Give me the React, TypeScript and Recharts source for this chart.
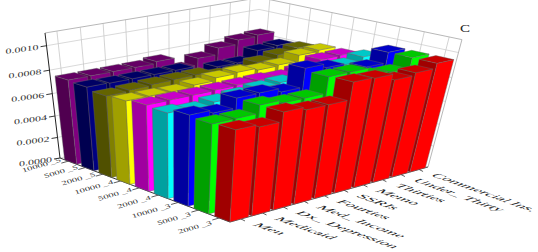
import { ScatterChart, Scatter, XAxis, YAxis, Customized } from "recharts";

const W = 538;
const H = 252;

const categories = ["Men", "Medicaid", "Dx_ Depression", "Med_ Income", "Fourties", "SSRIs", "Memo", "Thirties", "Under_ Thirty", "Commercial Ins."];
const rowLabels = ["2000 _3", "5000 _3", "10000 _3", "2000 _4", "5000 _4", "10000 _4", "2000 _5", "5000 _5", "10000 _5"];
const valueTicks = [0, 0.0002, 0.0004, 0.0006, 0.0008, 0.001];
const maxValue = 0.0011;

const row2000_3 = [0.00078, 0.00076, 0.000834, 0.00081, 0.00081, 0.000947, 0.00094, 0.00089, 0.00091, 0.00095];
const row5000_3 = [0.00077, 0.00077, 0.000835, 0.00081, 0.00081, 0.00094, 0.00094, 0.00088, 0.00087, 0.00095];
const row10000_3 = [0.000785, 0.00076, 0.000838, 0.00084, 0.00081, 0.00096, 0.00093, 0.00085, 0.000865, 0.00095];
const row2000_4 = [0.000747, 0.00073, 0.000755, 0.00077, 0.00079, 0.0008, 0.00078, 0.00078, 0.000836, 0.00087];
const row5000_4 = [0.000758, 0.00076, 0.00076, 0.000764, 0.000767, 0.00077, 0.00076, 0.00078, 0.000837, 0.00084];
const row10000_4 = [0.00074, 0.00074, 0.000737, 0.000756, 0.00078, 0.00079, 0.000774, 0.000782, 0.00083, 0.00084];
const row2000_5 = [0.00073, 0.00074, 0.00075, 0.000755, 0.000757, 0.00072, 0.00072, 0.00076, 0.00079, 0.000816];
const row5000_5 = [0.000754, 0.00075, 0.00075, 0.00075, 0.00075, 0.00066, 0.00071, 0.00071, 0.000785, 0.000796];
const row10000_5 = [0.000764, 0.000764, 0.000764, 0.000764, 0.00078, 0.00068, 0.00074, 0.000797, 0.000834, 0.000846];

const rows = [row2000_3, row5000_3, row10000_3, row2000_4, row5000_4, row10000_4, row2000_5, row5000_5, row10000_5];
const faceColors = [
  ["#a00000", "#ff0000", "#c80000"],
  ["#00a000", "#00ff00", "#00c800"],
  ["#0000a0", "#0000ff", "#0000c8"],
  ["#00a0a0", "#00ffff", "#00c8c8"],
  ["#a000a0", "#ff00ff", "#c800c8"],
  ["#a0a000", "#ffff00", "#c8c800"],
  ["#505000", "#808000", "#646400"],
  ["#000050", "#000080", "#000064"],
  ["#500050", "#800080", "#640064"],
];

// floor corners and the point the verticals converge on
const floorA = [230, 222];
const floorB = [428, 167];
const floorD = [251, 115];
const floorC = [60, 158];
const vanish = [175, 1117];
const topOfC = 33;

function floorMatrix() {
  const [x0, y0] = floorA, [x1, y1] = floorB, [x2, y2] = floorD, [x3, y3] = floorC;
  const dx1 = x1 - x2, dx2 = x3 - x2, sx = x0 - x1 + x2 - x3;
  const dy1 = y1 - y2, dy2 = y3 - y2, sy = y0 - y1 + y2 - y3;
  const den = dx1 * dy2 - dx2 * dy1;
  const g = (sx * dy2 - dx2 * sy) / den;
  const h = (dx1 * sy - sx * dy1) / den;
  return [x1 - x0 + g * x1, x3 - x0 + h * x3, x0, y1 - y0 + g * y1, y3 - y0 + h * y3, y0, g, h];
}
const m = floorMatrix();
// scale of the height column, so that the back-left corner reaches the top of the value axis
const wc = m[7] + 1;
const heightK = ((floorC[1] - topOfC) * wc) / (topOfC - vanish[1]);

// u along categories, v into depth, w up
function project(u: number, v: number, w: number) {
  const d = m[6] * u + m[7] * v + 1 + heightK * w;
  const x = (m[0] * u + m[1] * v + m[2] + heightK * w * vanish[0]) / d;
  const y = (m[3] * u + m[4] * v + m[5] + heightK * w * vanish[1]) / d;
  return [x, y];
}
const poly = (pts: number[][]) => pts.map((p) => p[0].toFixed(1) + "," + p[1].toFixed(1)).join(" ");

const barWidth = 0.085;
const barDepth = 0.08;
const edge = "#666666";

function Bar3D(props: any) {
  const { cx, cy, payload } = props;
  if (cx == null || cy == null) return null;
  const u0 = cx / W;
  const u1 = u0 + barWidth;
  const v0 = payload.row / rows.length;
  const v1 = v0 + barDepth;
  const w = (H - cy) / H;
  const [left, right, top] = faceColors[payload.row];
  return (
    <g stroke={edge} strokeWidth={0.4} strokeLinejoin="round">
      <polygon fill={left} points={poly([project(u0, v1, 0), project(u0, v0, 0), project(u0, v0, w), project(u0, v1, w)])} />
      <polygon fill={right} points={poly([project(u0, v0, 0), project(u1, v0, 0), project(u1, v0, w), project(u0, v0, w)])} />
      <polygon fill={top} points={poly([project(u0, v0, w), project(u1, v0, w), project(u1, v1, w), project(u0, v1, w)])} />
    </g>
  );
}

const gridColor = "#c8c8c8";

function line(a: number[], b: number[], stroke: string, sw: number, key: string) {
  return <line key={key} x1={a[0]} y1={a[1]} x2={b[0]} y2={b[1]} stroke={stroke} strokeWidth={sw} />;
}

function Frame() {
  const parts: any[] = [];
  categories.forEach((_, i) => {
    const u = (i + 0.5) / categories.length;
    parts.push(line(project(u, 1, 0), project(u, 1, 1), gridColor, 0.8, "cg" + i));
  });
  rowLabels.forEach((_, i) => {
    const v = (i + 0.5) / rowLabels.length;
    parts.push(line(project(1, v, 0), project(1, v, 1), gridColor, 0.8, "rg" + i));
  });
  valueTicks.forEach((t, i) => {
    const w = t / maxValue;
    parts.push(line(project(0, 1, w), project(1, 1, w), gridColor, 0.7, "vg" + i));
    parts.push(line(project(1, 1, w), project(1, 0, w), gridColor, 0.7, "vh" + i));
  });
  parts.push(line(project(0, 1, 1), project(1, 1, 1), "#b8b8b8", 1, "t1"));
  parts.push(line(project(1, 1, 1), project(1, 0, 1), "#b8b8b8", 1, "t2"));
  parts.push(line(project(1, 0, 0), project(1, 0, 1), "#b8b8b8", 1, "t3"));
  return <g>{parts}</g>;
}

function Axes() {
  const parts: any[] = [];
  parts.push(line(project(0, 1, 0), project(0, 1, 1), "#222", 1, "az"));
  parts.push(line(project(0, 1, 0), project(0, 0, 0), "#333", 1, "ad"));
  parts.push(line(project(0, 0, 0), project(1, 0, 0), "#555", 1, "ac"));
  valueTicks.forEach((t, i) => {
    const p = project(0, 1, t / maxValue);
    parts.push(line(p, [p[0] - 6, p[1] + 1], "#222", 0.9, "tz" + i));
    parts.push(
      <text key={"lz" + i} textAnchor="end" transform={`matrix(1.5 -0.2 0 0.95 ${p[0] - 8} ${p[1] + 4})`} fontFamily="Liberation Serif" fontSize={8} fill="#333">
        {t.toFixed(4)}
      </text>
    );
  });
  rowLabels.forEach((s, i) => {
    const v = (i + 0.5) / rowLabels.length;
    const p = project(0, v, 0);
    const drop = 6.5 - (6 * i) / (rowLabels.length - 1);
    parts.push(line(p, [p[0] - 7, p[1] + 2], "#333", 0.8, "td" + i));
    parts.push(
      <text key={"ld" + i} textAnchor="end" transform={`matrix(1.28 -0.36 0.32 0.72 ${p[0] - 7} ${p[1] + drop})`} fontFamily="Liberation Serif" fontSize={8} fill="#333">
        {s}
      </text>
    );
  });
  categories.forEach((s, i) => {
    const u = (i + 0.5) / categories.length;
    const p = project(u, 0, 0);
    parts.push(line(p, [p[0] + 4, p[1] + 2], "#333", 0.8, "tc" + i));
    parts.push(
      <text key={"lc" + i} transform={`matrix(1.17 0.42 -0.9 0.25 ${p[0] + 11} ${p[1] + 6})`} fontFamily="Liberation Serif" fontSize={13} fill="#222">
        {s}
      </text>
    );
  });
  parts.push(
    <text key="letter" fontFamily="Liberation Serif" fontSize={10} fill="#222" transform="translate(460 32) scale(1.5 1)">
      C
    </text>
  );
  return <g>{parts}</g>;
}

export default function App() {
  return (
    <div style={{ position: "absolute", left: 0, top: 0, width: W, height: H, overflow: "hidden", background: "#fff" }}>
      <ScatterChart width={W} height={H} margin={{ top: 0, right: 0, bottom: 0, left: 0 }}>
        <XAxis type="number" dataKey="cat" domain={[0, categories.length]} hide />
        <YAxis type="number" dataKey="value" domain={[0, maxValue]} hide />
        <Customized component={Frame} />
        {rows.map((values, r) => ({ values, r })).reverse().map(({ values, r }) => (
          <Scatter
            key={rowLabels[r]}
            data={values.map((value, c) => ({ cat: c, value, row: r })).reverse()}
            shape={Bar3D}
            isAnimationActive={false}
          />
        ))}
        <Customized component={Axes} />
      </ScatterChart>
    </div>
  );
}
